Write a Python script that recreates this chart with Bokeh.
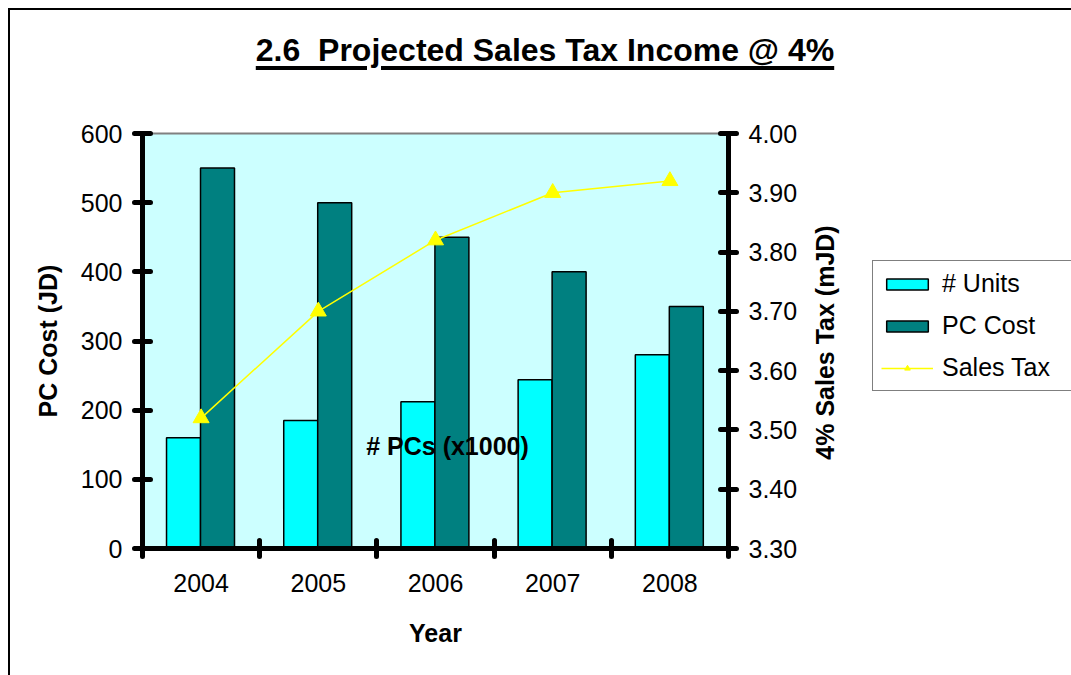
from bokeh.plotting import figure
from bokeh.layouts import column
from bokeh.models import (Range1d, LinearAxis, FixedTicker, Label, Div,
                          Legend, LegendItem, ColumnDataSource, NumeralTickFormatter)
from bokeh.embed import file_html
from bokeh.resources import INLINE

# ---- data ----
years = ["2004", "2005", "2006", "2007", "2008"]
units = [160, 185, 212, 244, 280]          # # PCs (x1000)
pc_cost = [550, 500, 450, 400, 350]        # JD
sales_tax = [3.52, 3.70, 3.82, 3.90, 3.92] # mJD
left_ticks = [0, 100, 200, 300, 400, 500, 600]
right_ticks = [3.30, 3.40, 3.50, 3.60, 3.70, 3.80, 3.90, 4.00]
series_names = ["# Units", "PC Cost", "Sales Tax"]
title_text = "2.6\u00a0 Projected Sales Tax Income @ 4%"
right_title = "4% Sales Tax (mJD)"

UNITS_COLOR, COST_COLOR, TAX_COLOR = "#00FFFF", "#008080", "#FFFF00"

W, H = 1071, 675
OX, OY = 10, 10          # inner origin of the bordered chart area
DIV_H = 90
FW, FH = W - OX, H - OY - DIV_H
FL, FR, FT, FB = 142 - OX, 728 - OX, 133 - OY - DIV_H, 548 - OY - DIV_H
FONT = "Liberation Sans"

idx = list(range(len(years)))
centers = [i + 0.5 for i in idx]
src = ColumnDataSource(dict(
    xu=[i + 0.35 for i in idx], xc=[i + 0.64 for i in idx], xm=centers,
    units=units, cost=pc_cost, tax=sales_tax))

p = figure(width=FW, height=FH, output_backend="svg", toolbar_location=None,
           x_range=Range1d(0, len(years)), y_range=Range1d(0, 600),
           x_axis_type=None, y_axis_type=None,
           min_border_left=FL, min_border_right=FW - FR,
           min_border_top=FT, min_border_bottom=FH - FB)
p.extra_y_ranges = {"tax": Range1d(3.30, 4.00)}
p.background_fill_color = "#CCFFFF"
p.border_fill_color = "white"
p.outline_line_color = "#808080"
p.outline_line_width = 2


def style(ax):
    ax.axis_line_color = "black"
    ax.axis_line_width = 5
    ax.major_tick_line_color = "black"
    ax.major_tick_line_width = 5
    ax.major_tick_line_cap = "round"
    ax.major_tick_in = 8
    ax.major_tick_out = 8
    ax.minor_tick_line_color = None
    ax.major_label_text_font = FONT
    ax.major_label_text_font_size = "25px"
    ax.major_label_text_color = "black"
    ax.major_label_standoff = 12
    ax.axis_label_text_font = FONT
    ax.axis_label_text_font_size = "25px"
    ax.axis_label_text_font_style = "bold"
    ax.axis_label_text_color = "black"


left = LinearAxis(ticker=FixedTicker(ticks=left_ticks), axis_label="PC Cost (JD)")
style(left)
left.axis_label_standoff = 16
p.add_layout(left, "left")

right = LinearAxis(y_range_name="tax", ticker=FixedTicker(ticks=right_ticks),
                   formatter=NumeralTickFormatter(format="0.00"))
style(right)
p.add_layout(right, "right")

bottom = LinearAxis(ticker=FixedTicker(ticks=centers, minor_ticks=list(range(len(years) + 1))),
                    major_label_overrides={c: y for c, y in zip(centers, years)},
                    axis_label="Year")
style(bottom)
bottom.major_tick_line_color = None
bottom.major_tick_in = 0
bottom.major_tick_out = 8
bottom.major_label_standoff = 17
bottom.axis_label_standoff = 24
bottom.minor_tick_line_color = "black"
bottom.minor_tick_line_width = 5
bottom.minor_tick_line_cap = "round"
bottom.minor_tick_in = 8
bottom.minor_tick_out = 8
p.add_layout(bottom, "below")

p.vbar(x="xu", top="units", width=0.29, source=src,
       fill_color=UNITS_COLOR, line_color="black", line_width=1.5)
p.vbar(x="xc", top="cost", width=0.29, source=src,
       fill_color=COST_COLOR, line_color="black", line_width=1.5)
p.line(x="xm", y="tax", source=src, y_range_name="tax",
       line_color=TAX_COLOR, line_width=1.5)
p.scatter(x="xm", y="tax", source=src, y_range_name="tax", marker="triangle",
          size=16, fill_color=TAX_COLOR, line_color=TAX_COLOR)

p.add_layout(Label(text="# PCs (x1000)", x=447 - 142, y=548 - 445,
                   x_units="screen", y_units="screen",
                   text_align="center", text_baseline="middle",
                   text_font=FONT, text_font_size="25px", text_font_style="bold",
                   text_color="black"))

# ---- legend (small transparent plot placed at the chart's right; its glyphs
#      reuse the chart data but lie outside its ranges, so only swatches show) ----
LW, LH = 205, 140
lf = figure(width=LW, height=LH, output_backend="svg", toolbar_location=None,
            x_range=Range1d(-20, -19), y_range=Range1d(-20, -19),
            x_axis_type=None, y_axis_type=None, min_border=0)
lf.outline_line_color = None
lf.background_fill_alpha = 0
lf.border_fill_alpha = 0
lr_units = lf.vbar(x="xu", top="units", width=0.29, source=src,
                   fill_color=UNITS_COLOR, line_color="black", line_width=1.5)
lr_cost = lf.vbar(x="xc", top="cost", width=0.29, source=src,
                  fill_color=COST_COLOR, line_color="black", line_width=1.5)
lr_line = lf.line(x="xm", y="tax", source=src, line_color=TAX_COLOR, line_width=1.5)
lr_tri = lf.scatter(x="xm", y="tax", source=src, marker="triangle", size=16,
                    fill_color=TAX_COLOR, line_color=TAX_COLOR)
legend = Legend(items=[LegendItem(label=series_names[0], renderers=[lr_units]),
                       LegendItem(label=series_names[1], renderers=[lr_cost]),
                       LegendItem(label=series_names[2], renderers=[lr_line, lr_tri])],
                location="top_left", orientation="vertical",
                label_text_font=FONT, label_text_font_size="25px", label_text_color="black",
                glyph_width=52, glyph_height=14, label_standoff=9,
                spacing=13, padding=8, margin=0, label_width=LW - 16 - 52 - 9,
                border_line_color="black", border_line_width=1,
                background_fill_color="white", background_fill_alpha=1.0)
lf.add_layout(legend, "center")
lf.styles = {"position": "absolute", "left": "%dpx" % (872 - OX), "top": "%dpx" % (260 - OY)}

# ---- right axis title (rotated HTML text, reads bottom to top) ----
RT_W, RT_H = 40, 270
rt = Div(
    text=('<div style="width:%dpx;height:%dpx;display:flex;align-items:center;'
          'justify-content:center;"><span style="display:inline-block;white-space:nowrap;'
          'transform:rotate(-90deg);font-family:\'Liberation Sans\';font-weight:bold;'
          'font-size:25px;line-height:29px;color:black;">%s</span></div>')
    % (RT_W, RT_H, right_title),
    width=RT_W, height=RT_H, margin=0,
    styles={"position": "absolute", "left": "%dpx" % (825 - RT_W // 2 - OX),
            "top": "%dpx" % (342 - RT_H // 2 - OY)})

title = Div(
    text=('<div style="box-sizing:border-box;width:%dpx;padding-left:%dpx;padding-top:24px;'
          'text-align:center;font-family:\'Liberation Sans\';font-weight:bold;font-size:32px;'
          'line-height:32px;color:black;text-decoration:underline;'
          'text-decoration-thickness:3.5px;text-underline-offset:5px;white-space:nowrap;">'
          '%s</div>') % (FW, 2 * (545 - OX) - FW, title_text),
    width=FW, height=DIV_H, margin=0)

layout = column(title, p, lf, rt, spacing=0,
                styles={"position": "relative", "overflow": "hidden",
                        "margin-left": "8px", "margin-top": "8px",
                        "border-left": "2px solid black", "border-top": "2px solid black",
                        "background": "white"})

open("out.html", "w").write(file_html(layout, INLINE))
